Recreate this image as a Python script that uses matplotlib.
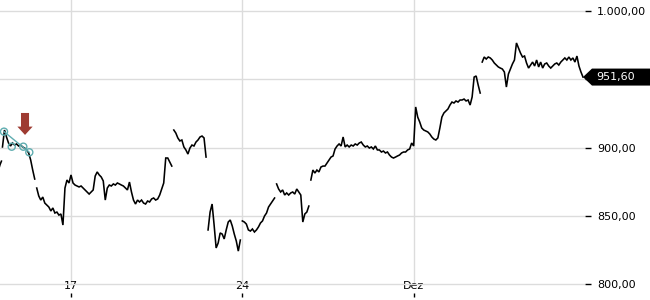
import numpy as np
import matplotlib
matplotlib.use("Agg")
import matplotlib.pyplot as plt
from matplotlib.patches import Polygon
from matplotlib.transforms import IdentityTransform

# ---------------- data ----------------
# trading days (position 0 = Mon 17 Nov), 17 intraday samples per day
trading_days = ["13.11", "14.11", "17.11", "18.11", "19.11", "20.11", "21.11",
                "24.11", "25.11", "26.11", "27.11", "28.11", "01.12", "02.12",
                "03.12", "04.12", "05.12"]
day_pos = [-2, -1, 0, 1, 2, 3, 4, 5, 6, 7, 8, 9, 10, 11, 12, 13, 14]
gap_before = [True, True, False, False, False, True, True, True, True, True,
              False, False, False, False, True, False, False]
samples_per_day = 17

price = [
    900.4, 912.8, 907.7, 903.3, 901.1, 903.3, 901.8, 902.6, 901.1, 901.8, 900.4, 899.6, 898.2, 896.0, 890.8, 883.5, 876.9,  # 13.11
    870.3, 864.5, 861.5, 863.7, 859.3, 857.9, 856.4, 853.5, 855.7, 852.0, 852.7, 850.5, 851.3, 843.2, 870.3, 876.2, 874.0,  # 14.11
    879.9, 874.0, 872.5, 871.8, 871.1, 871.8, 870.3, 868.9, 867.4, 865.9, 867.4, 868.9, 879.1, 882.1, 879.9, 878.4, 875.5,  # 17.11
    861.5, 870.3, 872.5, 871.8, 873.3, 872.5, 874.0, 873.3, 872.5, 871.8, 870.3, 868.9, 874.7, 867.4, 861.5, 858.6, 861.5,  # 18.11
    860.1, 861.5, 859.3, 858.6, 860.8, 860.1, 862.3, 863.0, 861.5, 862.3, 865.2, 869.6, 874.0, 892.3, 892.3, 889.4, 886.4,  # 19.11
    912.8, 910.6, 907.0, 904.8, 905.5, 900.4, 898.2, 895.2, 899.6, 901.8, 901.1, 904.0, 905.5, 907.7, 908.4, 907.0, 893.0,  # 20.11
    839.6, 852.7, 858.6, 843.2, 826.4, 830.0, 837.4, 836.6, 833.0, 839.6, 845.4, 846.9, 842.5, 836.6, 831.5, 824.1, 832.2,  # 21.11
    846.2, 845.4, 843.9, 839.6, 838.8, 840.3, 838.1, 839.6, 841.8, 844.7, 846.2, 849.8, 852.0, 856.4, 858.6, 860.8, 863.0,  # 24.11
    873.3, 869.6, 867.4, 868.9, 865.2, 866.7, 865.2, 866.7, 867.4, 865.9, 869.6, 867.4, 865.2, 845.4, 851.3, 852.7, 857.1,  # 25.11
    876.2, 883.5, 881.3, 883.5, 882.1, 885.7, 886.4, 886.4, 888.6, 890.8, 893.0, 893.8, 898.9, 901.1, 902.6, 901.1, 907.7,  # 26.11
    900.4, 901.8, 900.4, 901.8, 901.1, 902.6, 901.8, 903.3, 904.0, 901.8, 900.4, 901.1, 899.6, 900.4, 898.9, 901.1, 898.2,  # 27.11
    898.2, 896.7, 897.4, 896.0, 896.7, 894.5, 893.0, 892.3, 893.0, 893.8, 894.5, 896.0, 896.7, 896.7, 898.2, 898.9, 903.3,  # 28.11
    901.1, 929.7, 922.3, 918.7, 914.3, 912.8, 912.1, 911.4, 909.9, 907.7, 906.2, 905.5, 907.0, 914.3, 922.3, 925.3, 926.7,  # 01.12
    928.2, 931.1, 933.3, 932.6, 934.1, 933.3, 934.8, 934.8, 935.5, 934.1, 934.8, 931.1, 937.0, 951.6, 952.4, 945.8, 939.9,  # 02.12
    962.6, 966.3, 964.8, 966.3, 965.6, 964.1, 961.9, 960.4, 959.0, 958.2, 957.5, 955.3, 944.3, 953.8, 957.5, 961.2, 964.1,  # 03.12
    976.6, 972.9, 969.2, 966.3, 967.0, 961.9, 958.2, 960.4, 962.6, 959.7, 964.1, 959.0, 962.6, 958.2, 961.2, 961.9, 959.7,  # 04.12
    958.2, 959.7, 961.2, 961.9, 960.4, 962.6, 964.1, 965.6, 964.1, 966.3, 964.1, 965.6, 962.6, 967.0, 959.7, 955.3, 951.6,  # 05.12
]
# last minutes of 12.11 visible at the left edge
prev_day_t = [-2.10, -2.07, -2.03]
prev_day_price = [885.0, 887.5, 890.0]

# chart pattern marks (circles + trend line) and signal arrow
pattern_t = [-1.955, -1.730, -1.392, -1.217]
pattern_price = [911.6, 900.6, 900.6, 896.5]
arrow_t = -1.342
arrow_top, arrow_tip = 925.3, 909.2

x_tick_pos = [0, 5, 10]
x_tick_labels = ["17", "24", "Dez"]
y_ticks = [800, 850, 900, 950, 1000]

# ---------------- build series ----------------
xs, ys = [], []
for i, d in enumerate(day_pos):
    seg = price[i * samples_per_day:(i + 1) * samples_per_day]
    if gap_before[i] and xs:
        xs.append(np.nan)
        ys.append(np.nan)
    xs.extend(d + np.arange(samples_per_day) / samples_per_day)
    ys.extend(seg)
xs = np.array(xs)
ys = np.array(ys)
last_t = xs[-1]
last_price = ys[-1]


def de_fmt(v):
    s = f"{v:,.2f}"
    return s.replace(",", "X").replace(".", ",").replace("X", ".")


# ---------------- figure ----------------
W, H, DPI = 650, 300, 100
fig = plt.figure(figsize=(W / DPI, H / DPI), dpi=DPI)
fig.patch.set_facecolor("white")
ax = fig.add_axes([0, 3 / H, 585 / W, 297 / H])
ax.set_xlim(-2.072, 15.0)
ax.set_ylim(790.48, 1008.06)
for s in ax.spines.values():
    s.set_visible(False)

grid_c = "#dcdcdc"
ax.set_yticks(y_ticks)
# the tick label hidden behind the last-price box is left out
ax.set_yticklabels(["" if abs(v - last_price) < 10 else de_fmt(v) for v in y_ticks])
ax.yaxis.tick_right()
ax.yaxis.grid(True, color=grid_c, lw=1.0)
ax.set_axisbelow(True)
ymin_frac = (800 - 790.48) / (1008.06 - 790.48)
for xt in x_tick_pos:
    ax.axvline(xt, ymin=ymin_frac, ymax=1, color=grid_c, lw=1.0, zorder=0)
ax.set_xticks(x_tick_pos)
ax.set_xticklabels(x_tick_labels)
ax.tick_params(axis="y", length=4, width=1, pad=4.5, labelsize=8,
               colors="black")
ax.tick_params(axis="x", direction="in", length=3, width=1, pad=-11.5,
               labelsize=8, colors="black")

# price line
ax.plot(xs, ys, color="black", lw=1.15, solid_joinstyle="miter")
ax.plot(prev_day_t, prev_day_price, color="black", lw=1.15)

# pattern marks
teal = "#5fadb0"
ax.plot([pattern_t[0], pattern_t[-1]], [pattern_price[0], pattern_price[-1]],
        color=teal, lw=1.0)
ax.scatter(pattern_t, pattern_price, s=26, facecolors="none",
           edgecolors=teal, linewidths=1.0, zorder=3)

# signal arrow
ax.annotate("", xy=(arrow_t, arrow_tip), xytext=(arrow_t, arrow_top),
            arrowprops=dict(arrowstyle="simple,head_length=0.6,head_width=1.1,tail_width=0.58",
                            color="#9e3b32", lw=0, shrinkA=0, shrinkB=0,
                            mutation_scale=10))

# last price label box
xd, yd = ax.transData.transform((last_t, last_price))
hh = 8.5
verts = [(xd, yd), (xd + 9, yd + hh), (W, yd + hh), (W, yd - hh), (xd + 9, yd - hh)]
box = Polygon(verts, closed=True, facecolor="black", edgecolor="none",
              transform=IdentityTransform(), zorder=10)
fig.add_artist(box)
fig.text((xd + 13) / W, yd / H, de_fmt(last_price), color="white", fontsize=8,
         ha="left", va="center", zorder=11)

fig.savefig("out.png", dpi=DPI, facecolor="white")
